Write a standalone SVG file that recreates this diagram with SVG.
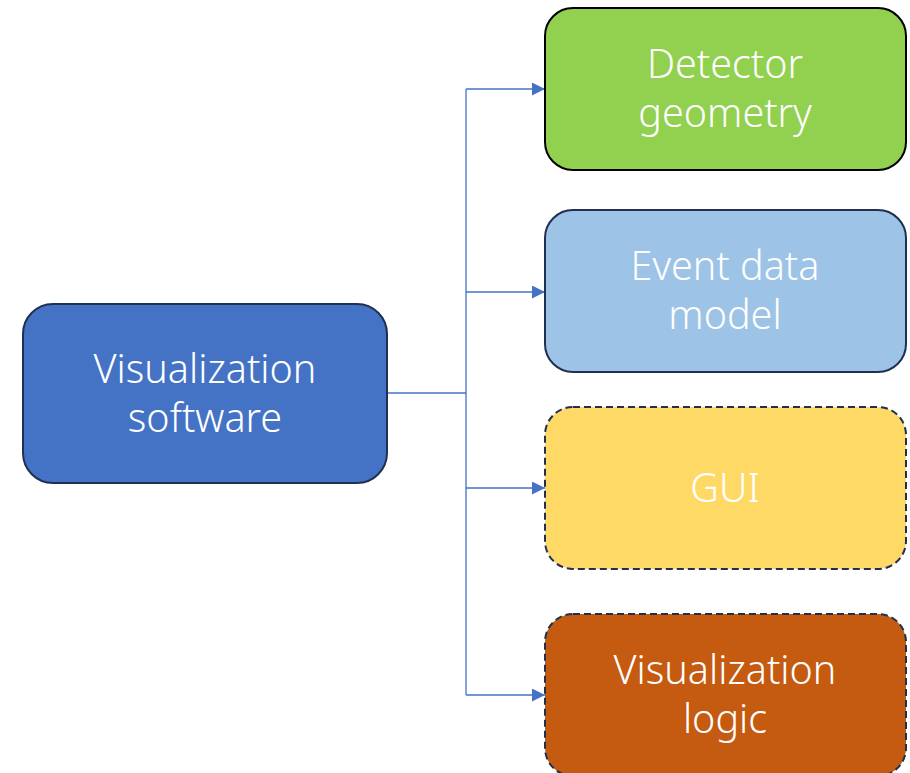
<svg xmlns="http://www.w3.org/2000/svg" width="910" height="773" viewBox="0 0 910 773">
<defs>
<style>
.box{stroke-width:2}
.solid{stroke:#1F3050}
.dash{stroke:#1F3050;stroke-dasharray:7 4}
.t{font-family:"Noto Sans","Liberation Sans",sans-serif;font-weight:300;font-size:39.5px;fill:#FFFFFF;text-anchor:middle}
.c{fill:none;stroke:#4472C4;stroke-width:1.3}
</style>
<marker id="ah" viewBox="0 0 10 10" refX="10" refY="5" markerWidth="13" markerHeight="13" markerUnits="userSpaceOnUse" orient="auto">
<path d="M0,0 L10,5 L0,10 z" fill="#4472C4"/>
</marker>
</defs>
<rect width="910" height="773" fill="#FFFFFF"/>
<g id="connectors">
<path class="c" d="M387,393 H466"/>
<path class="c" d="M466,89 V695"/>
<path class="c" d="M466,89 H545" marker-end="url(#ah)"/>
<path class="c" d="M466,292 H545" marker-end="url(#ah)"/>
<path class="c" d="M466,488 H545" marker-end="url(#ah)"/>
<path class="c" d="M466,695 H545" marker-end="url(#ah)"/>
</g>
<g id="visualization-software">
<rect class="box solid" x="23" y="304" width="364" height="179" rx="30" fill="#4472C4"/>
<text class="t" x="205" y="383">Visualization</text>
<text class="t" x="205" y="432">software</text>
</g>
<g id="detector-geometry">
<rect class="box" x="545" y="8" width="361" height="162" rx="28" fill="#92D050" stroke="#000000"/>
<text class="t" x="725" y="78">Detector</text>
<text class="t" x="725" y="127">geometry</text>
</g>
<g id="event-data-model">
<rect class="box solid" x="545" y="210" width="361" height="162" rx="28" fill="#9DC3E6"/>
<text class="t" x="725" y="280">Event data</text>
<text class="t" x="725" y="329">model</text>
</g>
<g id="gui">
<rect class="box dash" x="545" y="407" width="361" height="162" rx="28" fill="#FFD966"/>
<text class="t" x="725" y="502">GUI</text>
</g>
<g id="visualization-logic">
<rect class="box dash" x="545" y="614" width="361" height="162" rx="28" fill="#C55A11"/>
<text class="t" x="725" y="684">Visualization</text>
<text class="t" x="725" y="733">logic</text>
</g>
</svg>
